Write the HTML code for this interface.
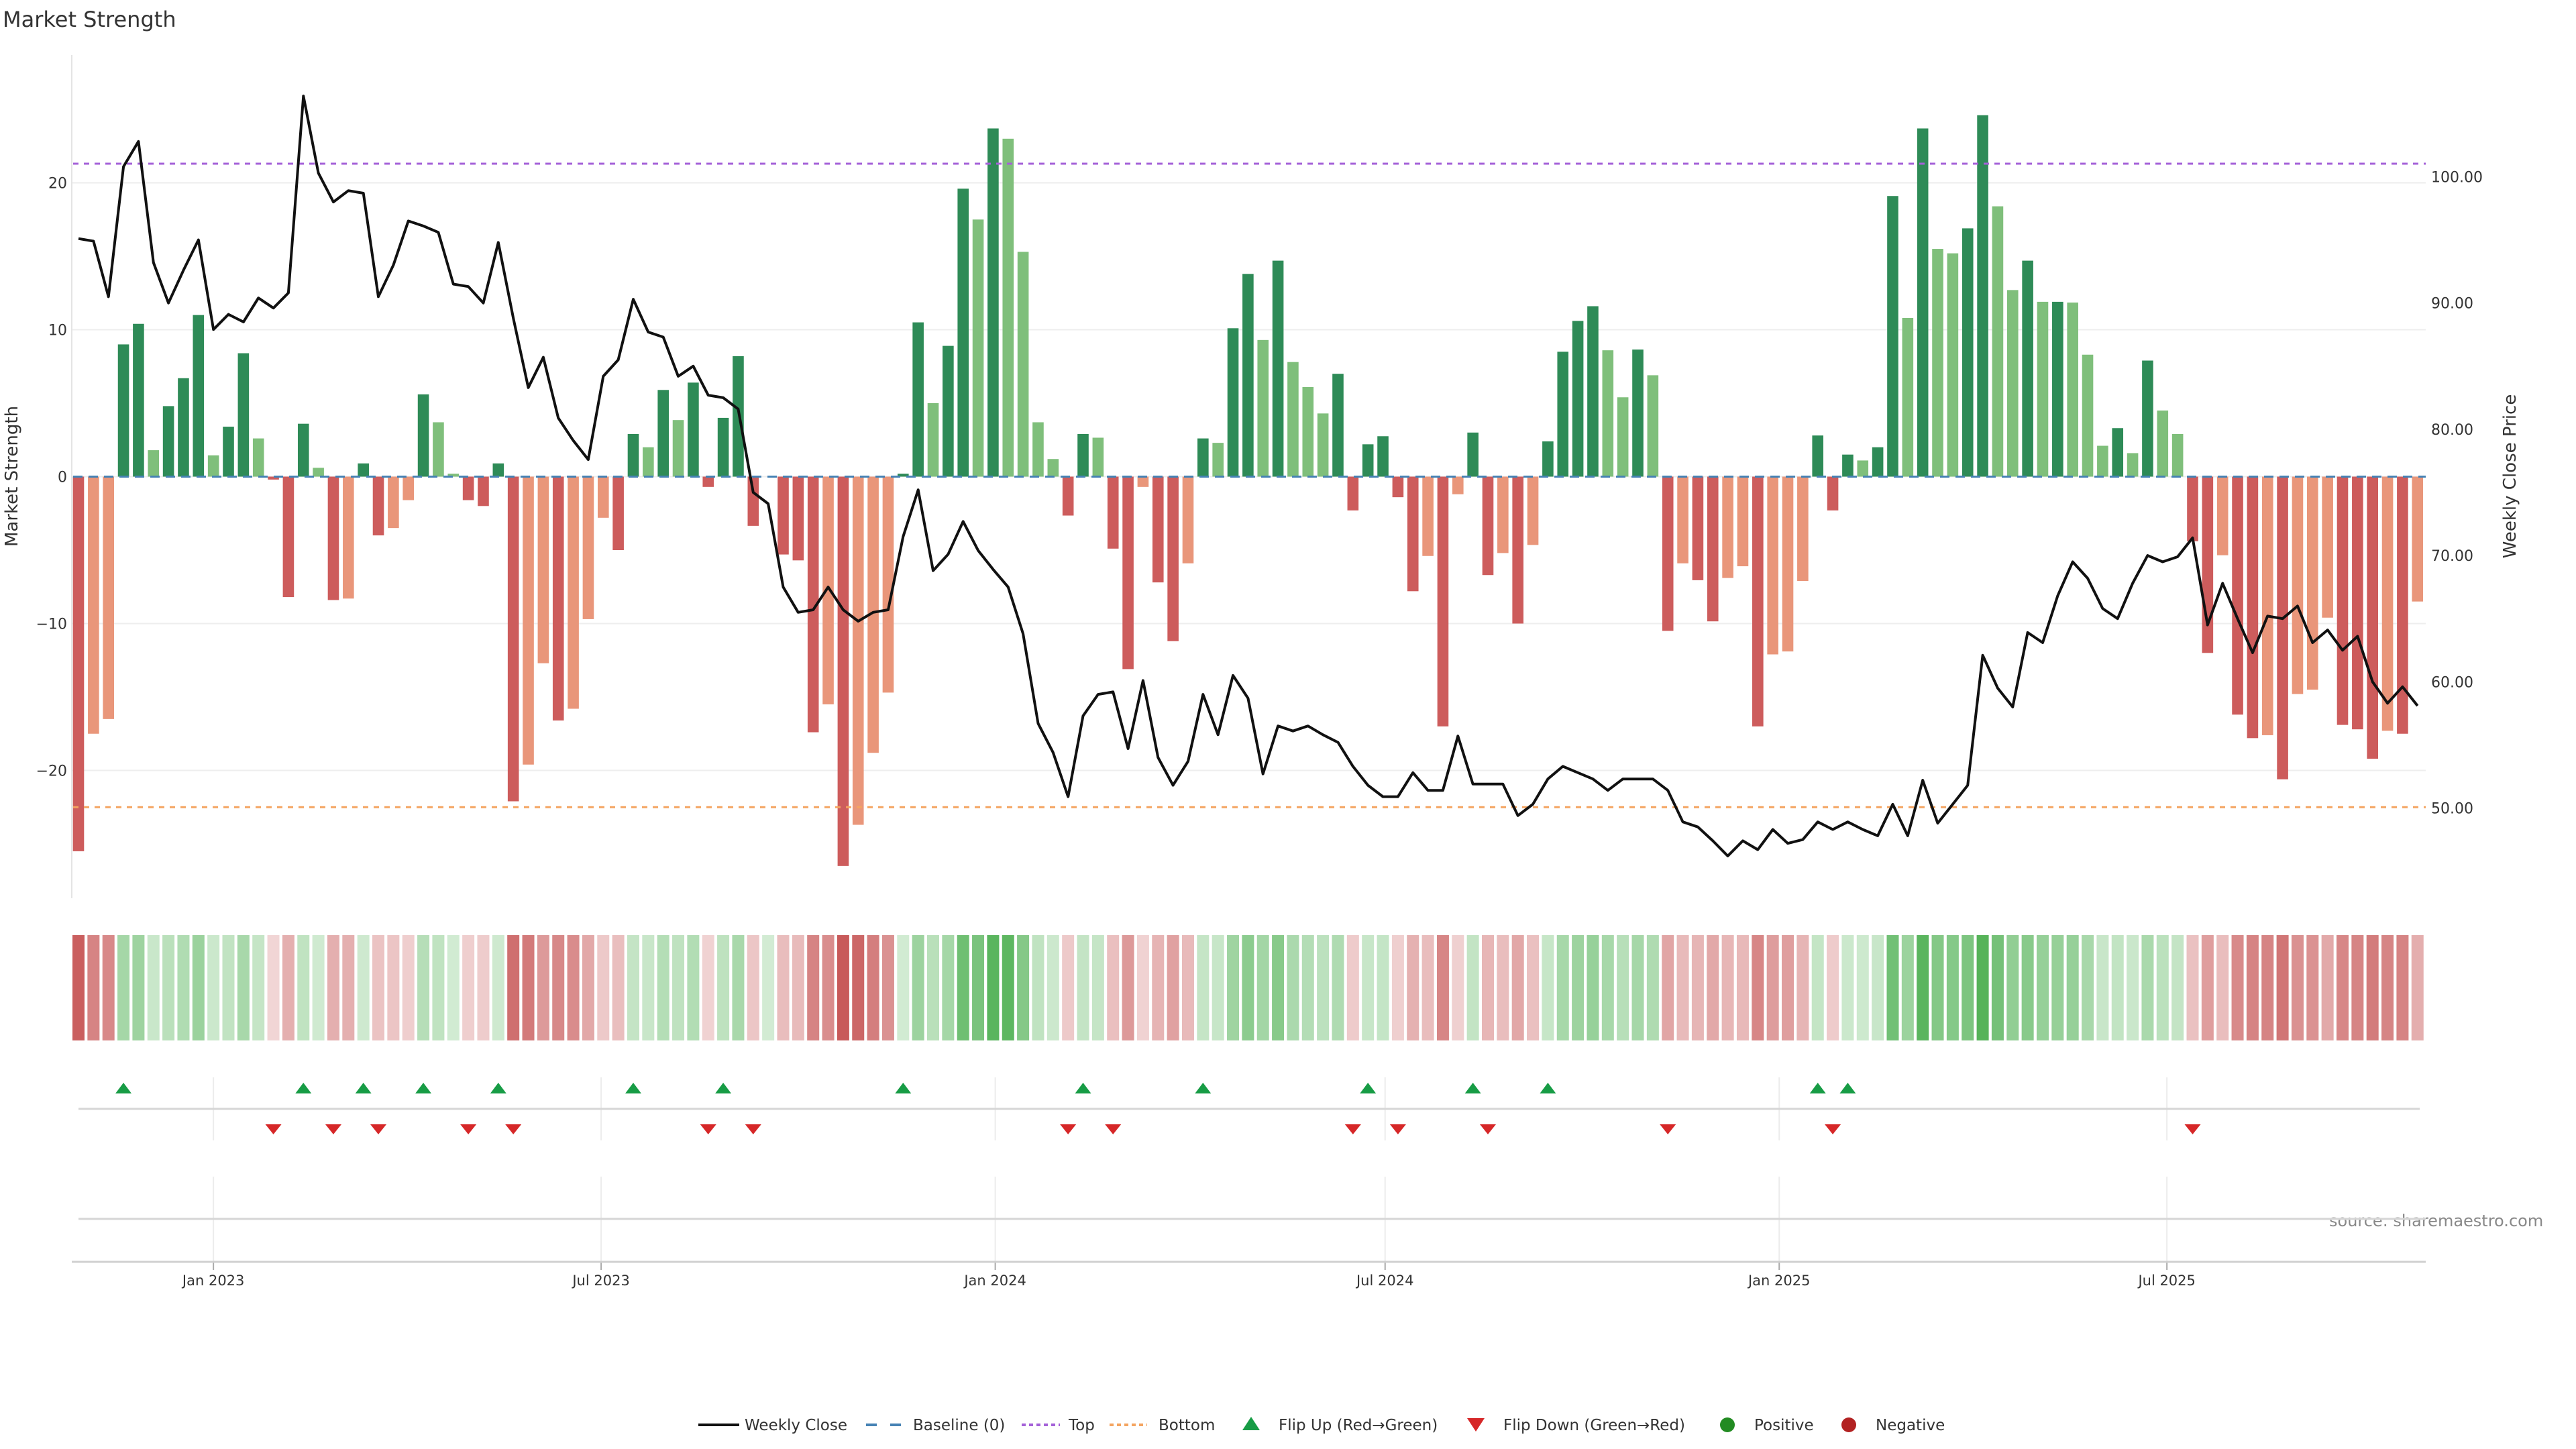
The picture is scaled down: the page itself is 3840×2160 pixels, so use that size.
<!DOCTYPE html>
<html><head><meta charset="utf-8"><title>Market Strength</title>
<style>
html,body{margin:0;padding:0;background:#fff;}
svg{display:block;font-family:"DejaVu Sans","Liberation Sans",sans-serif;}
</style></head>
<body>
<svg id="chart" width="3840" height="2160" viewBox="0 0 3840 2160" xmlns="http://www.w3.org/2000/svg">
<text x="4" y="40" font-size="32" fill="#333">Market Strength</text>
<text transform="translate(26,710) rotate(-90)" text-anchor="middle" font-size="26" fill="#333">Market Strength</text>
<text transform="translate(3750,710) rotate(-90)" text-anchor="middle" font-size="26" fill="#333">Weekly Close Price</text>
<text x="3472" y="1828" font-size="24" fill="#888">source: sharemaestro.com</text>
<g id="layer"></g>
<g id="legend"></g>
</svg>
<script>
const strength=[-25.5,-17.5,-16.5,9.0,10.4,1.8,4.8,6.7,11.0,1.45,3.4,8.4,2.6,-0.2,-8.2,3.6,0.6,-8.4,-8.3,0.9,-4.0,-3.5,-1.6,5.6,3.7,0.2,-1.6,-2.0,0.9,-22.1,-19.6,-12.7,-16.6,-15.8,-9.7,-2.8,-5.0,2.9,2.0,5.9,3.85,6.4,-0.7,4.0,8.2,-3.35,0,-5.3,-5.7,-17.4,-15.5,-26.5,-23.7,-18.8,-14.7,0.2,10.5,5.0,8.9,19.6,17.5,23.7,23.0,15.3,3.7,1.2,-2.65,2.9,2.65,-4.9,-13.1,-0.7,-7.2,-11.2,-5.9,2.6,2.3,10.1,13.8,9.3,14.7,7.8,6.1,4.3,7.0,-2.3,2.2,2.75,-1.4,-7.8,-5.4,-17.0,-1.2,3.0,-6.7,-5.2,-10.0,-4.65,2.4,8.5,10.6,11.6,8.6,5.4,8.65,6.9,-10.5,-5.9,-7.05,-9.85,-6.9,-6.1,-17.0,-12.1,-11.9,-7.1,2.8,-2.3,1.5,1.1,2.0,19.1,10.8,23.7,15.5,15.2,16.9,24.6,18.4,12.7,14.7,11.9,11.9,11.85,8.3,2.1,3.3,1.6,7.9,4.5,2.9,-4.4,-12.0,-5.35,-16.2,-17.8,-17.6,-20.6,-14.8,-14.5,-9.6,-16.9,-17.2,-19.2,-17.3,-17.5,-8.5];
const close=[95.1,94.9,90.5,100.8,102.8,93.2,90.0,92.6,95.0,87.9,89.1,88.5,90.4,89.6,90.8,106.4,100.3,98.0,98.9,98.7,90.5,93.0,96.5,96.1,95.6,91.5,91.3,90.0,94.8,88.8,83.3,85.7,80.9,79.1,77.6,84.2,85.5,90.3,87.7,87.3,84.2,85.0,82.7,82.5,81.6,75.0,74.1,67.5,65.5,65.7,67.5,65.7,64.8,65.5,65.7,71.5,75.2,68.8,70.1,72.7,70.4,68.9,67.5,63.8,56.7,54.4,50.9,57.3,59.0,59.2,54.7,60.1,54.0,51.8,53.7,59.0,55.8,60.5,58.7,52.7,56.5,56.1,56.5,55.8,55.2,53.3,51.8,50.9,50.9,52.8,51.4,51.4,55.7,51.9,51.9,51.9,49.4,50.3,52.3,53.3,52.8,52.3,51.4,52.3,52.3,52.3,51.4,48.9,48.5,47.4,46.2,47.4,46.7,48.3,47.2,47.5,48.9,48.3,48.9,48.3,47.8,50.3,47.8,52.2,48.8,50.3,51.8,62.1,59.5,58.0,63.9,63.1,66.8,69.5,68.2,65.8,65.0,67.8,70.0,69.5,69.9,71.4,64.5,67.8,65.0,62.3,65.2,65.0,66.0,63.1,64.1,62.5,63.6,60.0,58.3,59.6,58.1];
const startDate='2022-10-30';
const yTicks=[-20,-10,0,10,20];
const priceTicks=[50,60,70,80,90,100];
const dateTicks=['2023-01-01','2023-07-01','2024-01-01','2024-07-01','2025-01-01','2025-07-01'];
const dateTickLabels=['Jan 2023','Jul 2023','Jan 2024','Jul 2024','Jan 2025','Jul 2025'];
const topLevel=21.3;
const bottomLevel=-22.5;

const NS='http://www.w3.org/2000/svg';
const layer=document.getElementById('layer');
const PL=107,PR=3616,PT=82,PB=1339;
const DAY=86400000, PXDAY=3.193, X0=117;
const t0=new Date(startDate+'T00:00:00Z').getTime();
function xDate(s){return X0+(new Date(s+'T00:00:00Z').getTime()-t0)/DAY*PXDAY;}
function xIdx(i){return X0+i*7*PXDAY;}
function yL(v){return 710.5-v*21.9;}
function yR(p){return 263.5+(100-p)*18.82;}
function mk(tag,attrs,parent){const e=document.createElementNS(NS,tag);for(const k in attrs)e.setAttribute(k,attrs[k]);(parent||layer).appendChild(e);return e;}

yTicks.forEach(v=>{
  const g=mk('line',{x1:PL,x2:PR,y1:yL(v),y2:yL(v),stroke:'#eeeeee','stroke-width':2});
  
  
  const t=mk('text',{x:100,y:yL(v)+8,'text-anchor':'end','font-size':22,fill:'#333'});
  t.textContent=v<0?'\u2212'+Math.abs(v):String(v);
  
  
});
priceTicks.forEach(p=>{
  const t=mk('text',{x:3624,y:yR(p)+8,'font-size':22,fill:'#333'});
  t.textContent=p.toFixed(2);
  
  
});
const ax=mk('line',{x1:PL,x2:PL,y1:PT,y2:PB,stroke:'#e4e4e4','stroke-width':2});



strength.forEach((v,i)=>{
  const prev=i>0?strength[i-1]:0;
  const strong=i===0||Math.sign(v)!==Math.sign(prev)||Math.abs(v)>=Math.abs(prev);
  const col=v>=0?(strong?'#2e8b57':'#7fbf7b'):(strong?'#cd5c5c':'#e9967a');
  const y1=yL(Math.max(v,0)),y2=yL(Math.min(v,0));
  const r=mk('rect',{x:xIdx(i)-8.3,y:y1,width:16.6,height:Math.max(y2-y1,0),fill:col});
  
  
});
const bl=mk('line',{x1:X0-8,x2:PR,y1:yL(0),y2:yL(0),stroke:'#4682b4','stroke-width':3,'stroke-dasharray':'14 9'});


const tl=mk('line',{x1:X0-8,x2:PR,y1:yL(topLevel),y2:yL(topLevel),stroke:'#a461d8','stroke-width':3,'stroke-dasharray':'8 8'});


const bt=mk('line',{x1:X0-8,x2:PR,y1:yL(bottomLevel),y2:yL(bottomLevel),stroke:'#f4a460','stroke-width':3,'stroke-dasharray':'8 8'});


const pts=close.map((p,i)=>xIdx(i).toFixed(1)+','+yR(p).toFixed(1)).join(' ');
const pl=mk('polyline',{points:pts,fill:'none',stroke:'#111','stroke-width':4,'stroke-linejoin':'round'});



const maxAbs=Math.max(...strength.map(Math.abs));
strength.forEach((v,i)=>{
  const a=0.25+0.75*Math.abs(v)/maxAbs;
  const base=v>=0?[76,175,80]:[200,90,90];
  const c=base.map(b=>Math.round(255-(255-b)*a));
  const r=mk('rect',{x:xIdx(i)-9,y:1394,width:18,height:157,fill:'rgb('+c.join(',')+')'});
  
  
});

dateTicks.forEach((d,k)=>{
  const x=xDate(d);
  const g1=mk('line',{x1:x,x2:x,y1:1606,y2:1700,stroke:'#ececec','stroke-width':2});
  
  
  const g2=mk('line',{x1:x,x2:x,y1:1754,y2:1881,stroke:'#ececec','stroke-width':2});
  
  
  const tk=mk('line',{x1:x,x2:x,y1:1881,y2:1893,stroke:'#aaa','stroke-width':2});
  
  
  const t=mk('text',{x:x,y:1916,'text-anchor':'middle','font-size':21,fill:'#333'});
  t.textContent=dateTickLabels[k];
  
  
});
const sep=mk('line',{x1:117,x2:3607,y1:1653,y2:1653,stroke:'#d6d6d6','stroke-width':3});


const sep2=mk('line',{x1:117,x2:3616,y1:1817,y2:1817,stroke:'#d6d6d6','stroke-width':3});


const xa=mk('line',{x1:PL,x2:PR,y1:1881,y2:1881,stroke:'#d0d0d0','stroke-width':3});



strength.forEach((v,i)=>{
  if(i===0)return;
  const p=strength[i-1];
  const x=xIdx(i);
  if(v>0&&p<=0){
    const m=mk('polygon',{points:(x-12)+',1630 '+(x+12)+',1630 '+x+',1614',fill:'#179c45'});
    
    
  } else if(v<0&&p>=0&&!(p===0&&i>1&&strength[i-2]<0)){
    const m=mk('polygon',{points:(x-12)+',1676 '+(x+12)+',1676 '+x+',1691',fill:'#d62728'});
    
    
  }
});

const lg=document.getElementById('legend');
function lt(x,s,name){const t=mk('text',{x:x,y:2132,'font-size':23,fill:'#333'},lg);t.textContent=s;}
let e;
e=mk('line',{x1:1041,x2:1102,y1:2124,y2:2124,stroke:'#111','stroke-width':4},lg);


lt(1110,'Weekly Close','legend-weekly-close');
e=mk('line',{x1:1291,x2:1346,y1:2124,y2:2124,stroke:'#4682b4','stroke-width':4,'stroke-dasharray':'16 20'},lg);


lt(1361,'Baseline (0)','legend-baseline');
e=mk('line',{x1:1523,x2:1580,y1:2124,y2:2124,stroke:'#a461d8','stroke-width':4,'stroke-dasharray':'6 5'},lg);


lt(1593,'Top','legend-top');
e=mk('line',{x1:1654,x2:1710,y1:2124,y2:2124,stroke:'#f4a460','stroke-width':4,'stroke-dasharray':'6 5'},lg);


lt(1727,'Bottom','legend-bottom');
e=mk('polygon',{points:'1852,2132 1878,2132 1865,2112',fill:'#179c45'},lg);


lt(1906,'Flip Up (Red\u2192Green)','legend-flip-up');
e=mk('polygon',{points:'2187,2114 2213,2114 2200,2134',fill:'#d62728'},lg);


lt(2241,'Flip Down (Green\u2192Red)','legend-flip-down');
e=mk('circle',{cx:2575,cy:2124,r:11,fill:'#228b22'},lg);


lt(2615,'Positive','legend-positive');
e=mk('circle',{cx:2756,cy:2124,r:11,fill:'#b22222'},lg);


lt(2796,'Negative','legend-negative');
</script>
</body></html>
